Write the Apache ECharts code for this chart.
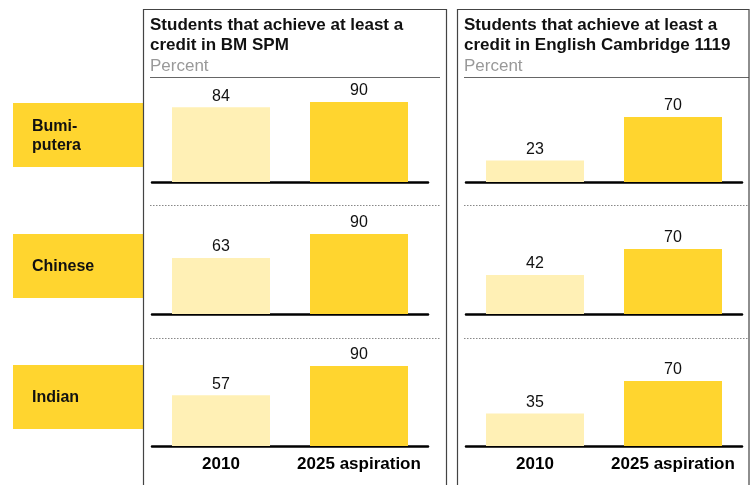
<!DOCTYPE html>
<html><head><meta charset="utf-8">
<script src="https://cdn.jsdelivr.net/npm/echarts@6/dist/echarts.min.js"></script>
<style>html,body{margin:0;padding:0;background:#fff}#c{width:751px;height:485px}</style>
</head><body><div id="c"></div>
<script>
const groups = ['Bumi-\nputera', 'Chinese', 'Indian'];
const categories = ['2010', '2025 aspiration'];
const bm2010 = [84, 63, 57];
const bm2025 = [90, 90, 90];
const eng2010 = [23, 42, 35];
const eng2025 = [70, 70, 70];
const panelTitles = ['Students that achieve at least a\ncredit in BM SPM', 'Students that achieve at least a\ncredit in English Cambridge 1119'];
const unitLabel = 'Percent';

const FONT = 'Liberation Sans, Arial, sans-serif';
const LIGHT = '#FFF0B5', DARK = '#FFD52F';
const baselines = [182, 314, 446];
const panels = [
  {left: 152, width: 276, h: 89, v1: bm2010, v2: bm2025},
  {left: 466, width: 276, h: 93, v1: eng2010, v2: eng2025}
];

const grid = [], xAxis = [], yAxis = [], series = [];
panels.forEach((p, pi) => {
  baselines.forEach((b, ri) => {
    const idx = grid.length;
    grid.push({left: p.left, width: p.width, top: b - p.h, height: p.h});
    xAxis.push({
      type: 'category', gridIndex: idx, data: categories,
      axisTick: {show: false},
      axisLine: {lineStyle: {color: '#000', width: 2.5}},
      axisLabel: {show: ri === 2, interval: 0, margin: 10, fontFamily: FONT, fontSize: 17, fontWeight: 'bold', color: '#000'}
    });
    yAxis.push({type: 'value', gridIndex: idx, min: 0, max: 100, show: false});
    series.push({
      type: 'bar', xAxisIndex: idx, yAxisIndex: idx, barWidth: 98,
      data: [
        {value: p.v1[ri], itemStyle: {color: LIGHT}},
        {value: p.v2[ri], itemStyle: {color: DARK}}
      ],
      label: {show: true, position: 'top', distance: 3, fontFamily: FONT, fontSize: 16, color: '#111'},
      silent: true
    });
  });
});

const graphic = [];
graphic.push({type: 'rect', shape: {x: 143.5, y: 9.5, width: 303, height: 490}, style: {fill: 'none', stroke: '#444', lineWidth: 1.2}, z: 10});
graphic.push({type: 'rect', shape: {x: 457.5, y: 9.5, width: 291.5, height: 490}, style: {fill: 'none', stroke: '#444', lineWidth: 1.2}, z: 10});
graphic.push({type: 'line', shape: {x1: 150, y1: 77.5, x2: 440, y2: 77.5}, style: {stroke: '#666', lineWidth: 1.2}});
graphic.push({type: 'line', shape: {x1: 464, y1: 77.5, x2: 749, y2: 77.5}, style: {stroke: '#666', lineWidth: 1.2}});
[205.5, 338.5].forEach(y => {
  graphic.push({type: 'line', shape: {x1: 150, y1: y, x2: 440, y2: y}, style: {stroke: '#888', lineWidth: 1, lineDash: [1.5, 1.5]}});
  graphic.push({type: 'line', shape: {x1: 464, y1: y, x2: 749, y2: y}, style: {stroke: '#888', lineWidth: 1, lineDash: [1.5, 1.5]}});
});
const boxTops = [103, 234, 365];
groups.forEach((g, i) => {
  graphic.push({type: 'rect', shape: {x: 13, y: boxTops[i], width: 130, height: 64}, style: {fill: DARK}, z: 5});
  graphic.push({type: 'text', x: 32, y: boxTops[i] + 33, style: {text: g, fontFamily: FONT, fontSize: 16, fontWeight: 'bold', fill: '#111', verticalAlign: 'middle', lineHeight: 19}, z: 6});
});

const title = panelTitles.map((t, i) => ({
  text: t, subtext: unitLabel, left: i === 0 ? 150 : 464, top: 15, itemGap: 1, padding: 0,
  textStyle: {fontFamily: FONT, fontSize: 17, fontWeight: 'bold', color: '#111', lineHeight: 20},
  subtextStyle: {fontFamily: FONT, fontSize: 17, color: '#999', lineHeight: 20}
}));

const chart = echarts.init(document.getElementById('c'), null, {renderer: 'canvas'});
chart.setOption({animation: false, title, grid, xAxis, yAxis, series, graphic});
</script></body></html>
